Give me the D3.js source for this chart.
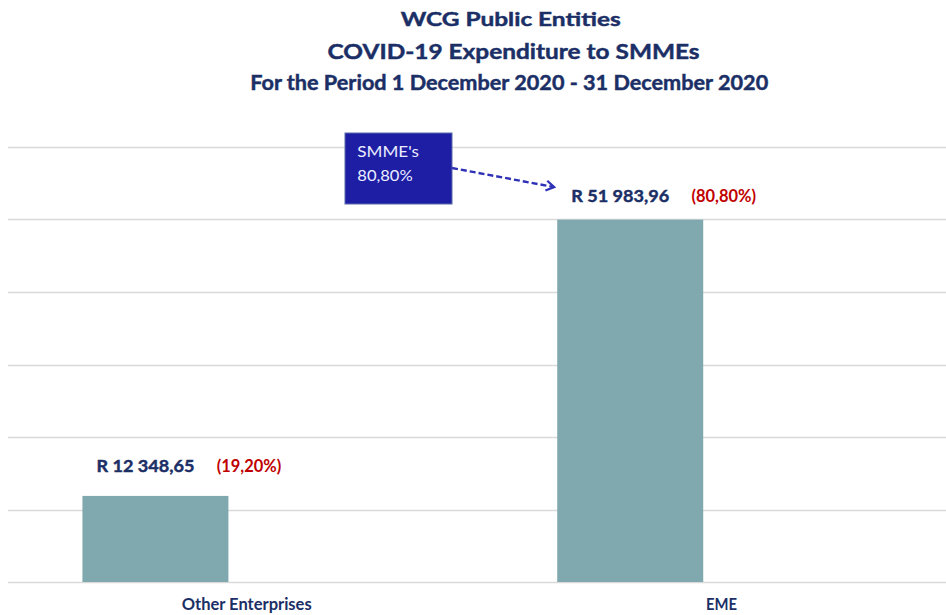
<!DOCTYPE html>
<html>
<head>
<meta charset="utf-8">
<script src="https://cdn.jsdelivr.net/npm/d3@7"></script>
<style>
  html, body { margin: 0; padding: 0; background: #ffffff; }
  svg { display: block; }
  text { font-family: Lato, "Open Sans", sans-serif; }
</style>
</head>
<body>
<script>
// ---- data ----
const titleLines = ["WCG Public Entities", "COVID-19 Expenditure to SMMEs", "For the Period 1 December 2020 - 31 December 2020"];
const categories = ["Other Enterprises", "EME"];
const series = ["Value", "Blank"];
const values = [12348.65, 51983.96];
const valueLabels = ["R 12 348,65", "R 51 983,96"];
const pctLabels = ["(19,20%)", "(80,80%)"];
const yMax = 62400;
const gridTicks = [0, 10400, 20800, 31200, 41600, 52000, 62400];
const calloutLines = ["SMME's", "80,80%"];
const calloutTarget = "EME";

// ---- layout ----
const W = 946, H = 615;
const navy = "#1B2F66", red = "#C00000", barColor = "#80A9AF", gridColor = "#D9D9D9";

const svg = d3.select("body").append("svg").attr("width", W).attr("height", H);

const x = d3.scaleBand().domain(categories).range([9.3, 958.9]).padding(0);
const xs = d3.scaleBand().domain(series).range([0, x.bandwidth()])
  .paddingInner(0).paddingOuter(0.626).align(0.4);
const y = d3.scaleLinear().domain([0, yMax]).range([582, 147]);

function stretchText(sel, len) {
  sel.attr("textLength", len).attr("lengthAdjust", "spacingAndGlyphs");
}
function heavy(sel, color) {
  sel.attr("stroke", color).attr("stroke-width", 0.45).attr("paint-order", "stroke");
}

// title
const titleSizes = [19.5, 21, 20.5];
const titleY = [26, 59, 90];
const titleW = [220, 372, 518];
const titleCx = [510.7, 513.6, 509.2];
titleLines.forEach((t, i) => {
  svg.append("text").attr("x", titleCx[i]).attr("y", titleY[i]).attr("text-anchor", "middle")
    .attr("font-size", titleSizes[i]).attr("font-weight", "bold").attr("fill", navy).text(t)
    .call(stretchText, titleW[i]).call(heavy, navy);
});

// gridlines
svg.append("g").selectAll("line").data(gridTicks).join("line")
  .attr("x1", 8).attr("x2", 946)
  .attr("y1", d => Math.round(y(d)) + 0.5).attr("y2", d => Math.round(y(d)) + 0.5)
  .attr("stroke", gridColor).attr("stroke-width", 1.3);

// bars
svg.append("g").selectAll("rect").data(categories).join("rect")
  .attr("x", d => x(d) + xs("Value")).attr("width", xs.bandwidth())
  .attr("y", (d, i) => y(values[i])).attr("height", (d, i) => y(0) - y(values[i]))
  .attr("fill", barColor);

// value labels
const labelDy = [24, 18];
categories.forEach((c, i) => {
  const ty = y(values[i]) - labelDy[i];
  const bx0 = x(c) + xs("Value");
  svg.append("text").attr("x", bx0 + 14).attr("y", ty)
    .attr("font-size", 17.5).attr("font-weight", "bold").attr("fill", navy).text(valueLabels[i])
    .call(stretchText, 98).call(heavy, navy);
  svg.append("text").attr("x", bx0 + 134.3).attr("y", ty)
    .attr("font-size", 16.5).attr("font-weight", "bold").attr("fill", red).text(pctLabels[i])
    .call(stretchText, 64.5);
});

// category axis labels
const xAxis = d3.axisBottom(x).tickSize(0).tickPadding(0);
const gx = svg.append("g").attr("transform", "translate(0,597)").call(xAxis);
gx.select(".domain").remove();
gx.selectAll("text").attr("font-size", 17).attr("font-weight", "bold").attr("fill", navy)
  .attr("font-family", 'Lato, "Open Sans", sans-serif')
  .attr("dy", "0.75em")
  .attr("textLength", d => d === "EME" ? 31 : 130).attr("lengthAdjust", "spacingAndGlyphs");

// callout
const bx = 345, by = 133, bw = 107, bh = 71;
svg.append("rect").attr("x", bx).attr("y", by).attr("width", bw).attr("height", bh)
  .attr("fill", "#1E1EA5").attr("stroke", "#5A6AA8").attr("stroke-width", 1);
const calloutW = [61.7, 55.4];
calloutLines.forEach((t, i) => {
  svg.append("text").attr("x", bx + 12.3).attr("y", by + 24.3 + i * 24)
    .attr("font-size", 14.5).attr("fill", "#ECEEFF").text(t)
    .call(stretchText, calloutW[i]);
});
// arrow
const defs = svg.append("defs");
defs.append("marker").attr("id", "arr").attr("viewBox", "0 0 12 12").attr("refX", 10).attr("refY", 6)
  .attr("markerWidth", 12).attr("markerHeight", 12).attr("orient", "auto").attr("markerUnits", "userSpaceOnUse")
  .append("path").attr("d", "M2,1 L10,6 L2,11").attr("fill", "none").attr("stroke", "#2E31B5").attr("stroke-width", 2.2);
const tgt = categories.indexOf(calloutTarget);
const tx = x(calloutTarget) + xs("Value") - 3, tyy = y(values[tgt]) - 32.5;
svg.append("line").attr("x1", bx + bw).attr("y1", 168).attr("x2", tx).attr("y2", tyy)
  .attr("stroke", "#2E31B5").attr("stroke-width", 2.4).attr("stroke-dasharray", "6,3")
  .attr("marker-end", "url(#arr)");
</script>
</body>
</html>
